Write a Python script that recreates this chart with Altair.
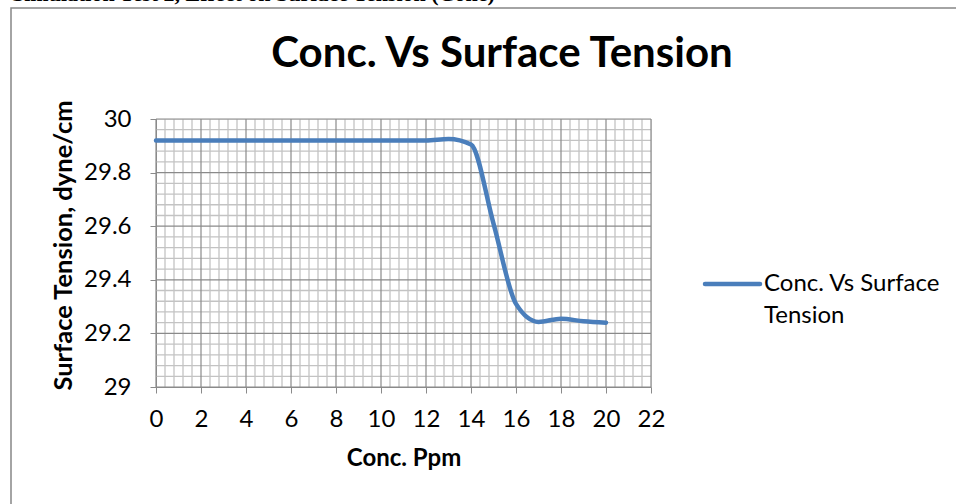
import altair as alt
import pandas as pd
import numpy as np

# ---- data ----
conc = [0, 2, 4, 6, 8, 10, 12, 13, 14, 15, 16, 17, 18, 19, 20]
tension = [29.92, 29.92, 29.92, 29.92, 29.92, 29.92, 29.92, 29.925, 29.905,
           29.61, 29.31, 29.243, 29.255, 29.245, 29.24]
series_name = "Conc. Vs Surface Tension"
chart_title = "Conc. Vs Surface Tension"
header_text = "Simulation Test 2, Effect on Surface Tension (Cone)"
x_major = list(range(0, 23, 2))
y_major = [29.0, 29.2, 29.4, 29.6, 29.8, 30.0]
x_minor = [round(v, 2) for v in np.arange(0, 22.001, 0.4) if abs(v / 2 - round(v / 2)) > 1e-6]
y_minor = [round(v, 3) for v in np.arange(29, 30.0001, 0.04) if abs(v / 0.2 - round(v / 0.2)) > 1e-6]

df = pd.DataFrame({"conc": conc, "tension": tension, "series": series_name})

FONT = "Lato"
GRID_MINOR = "#c3c3c3"
GRID_MAJOR = "#8a8a8a"
BLUE = "#4a7ebb"

xscale = alt.Scale(domain=[0, 22], nice=False, zero=False)
yscale = alt.Scale(domain=[29, 30], nice=False, zero=False)

xaxis = alt.Axis(values=x_major, grid=False, domainColor=GRID_MAJOR, tickColor=GRID_MAJOR,
                 tickSize=6, labelFont=FONT, labelFontSize=24, labelColor="black",
                 labelPadding=14, title="Conc. Ppm", titleFont=FONT, titleFontSize=24,
                 titleFontWeight="bold", titleColor="black", titleX=247.5, titleY=71,
                 titleBaseline="middle", titleAlign="center", labelFlush=False)
yaxis = alt.Axis(values=y_major, grid=False, domainColor=GRID_MAJOR, tickColor=GRID_MAJOR,
                 tickSize=6, labelFont=FONT, labelFontSize=24, labelColor="black",
                 labelPadding=19, title="Surface Tension, dyne/cm", titleFont=FONT,
                 titleFontSize=25.5, titleFontWeight="bold", titleColor="black",
                 titleX=-93, titleY=126, titleBaseline="middle", titleAlign="center",
                 titleAngle=-90, labelFlush=False, format="~g")

minor_v = alt.Chart(pd.DataFrame({"x": x_minor})).mark_rule(color=GRID_MINOR, strokeWidth=1.3).encode(
    x=alt.X("x:Q", scale=xscale, axis=xaxis))
minor_h = alt.Chart(pd.DataFrame({"y": y_minor})).mark_rule(color=GRID_MINOR, strokeWidth=1.3).encode(
    y=alt.Y("y:Q", scale=yscale, axis=yaxis))
major_v = alt.Chart(pd.DataFrame({"x": x_major})).mark_rule(color=GRID_MAJOR, strokeWidth=1.2).encode(
    x=alt.X("x:Q", scale=xscale, axis=xaxis))
major_h = alt.Chart(pd.DataFrame({"y": y_major})).mark_rule(color=GRID_MAJOR, strokeWidth=1.2).encode(
    y=alt.Y("y:Q", scale=yscale, axis=yaxis))

line = alt.Chart(df).mark_line(interpolate="monotone", strokeWidth=4.5, strokeCap="round",
                               color=BLUE).encode(
    x=alt.X("conc:Q", scale=xscale, axis=xaxis),
    y=alt.Y("tension:Q", scale=yscale, axis=yaxis),
)

one = pd.DataFrame({"t": [series_name]})
legend_rule = alt.Chart(one).mark_rule(color=BLUE, strokeWidth=4.5, strokeCap="round").encode(
    x=alt.value(549), x2=alt.value(604), y=alt.value(165))
legend_text = alt.Chart(one).mark_text(align="left", baseline="alphabetic", font=FONT,
                                       fontSize=24, lineHeight=32, color="black").encode(
    x=alt.value(608), y=alt.value(172), text=alt.value(["Conc. Vs Surface", "Tension"]))

title_text = alt.Chart(one).mark_text(align="center", baseline="alphabetic", font=FONT,
                                      fontSize=42, fontWeight="bold", color="black").encode(
    x=alt.value(346), y=alt.value(-52), text=alt.value(chart_title))

frame = alt.Chart(one).mark_rect(fill=None, stroke="#868686", strokeWidth=1.5).encode(
    x=alt.value(-145), x2=alt.value(820), y=alt.value(-111), y2=alt.value(400))
header = alt.Chart(one).mark_text(align="left", baseline="alphabetic", font="Liberation Serif",
                                  fontSize=22, fontWeight="bold", color="black").encode(
    x=alt.value(-144), y=alt.value(-118), text=alt.value(header_text))

chart = alt.layer(frame, header, title_text, minor_v, minor_h, major_v, major_h, line,
                  legend_rule, legend_text).properties(
    width=495, height=268,
    autosize=alt.AutoSizeParams(type="none"),
    padding={"left": 156, "top": 119, "right": 305, "bottom": 117},
).configure_view(stroke=None).configure(background="white")

chart.save("out.html", embed_options={"renderer": "svg", "actions": False})
